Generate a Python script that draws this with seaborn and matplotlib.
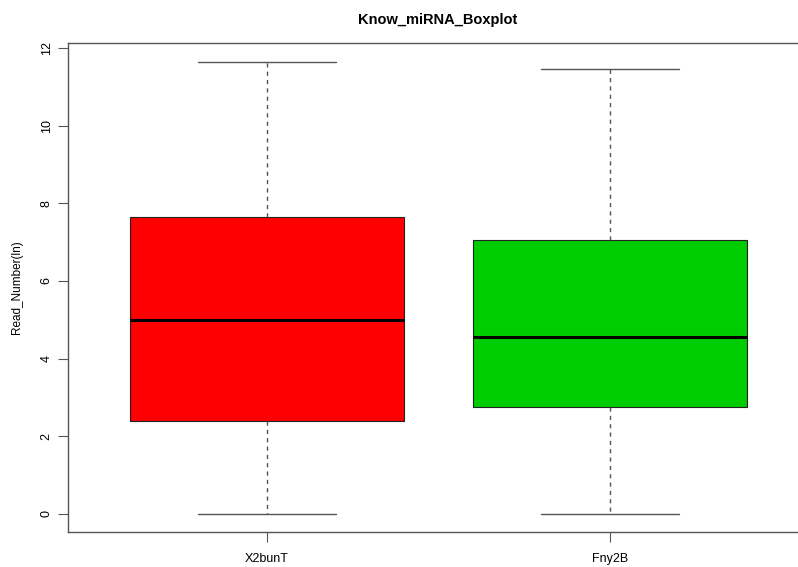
import matplotlib.pyplot as plt
import pandas as pd
import seaborn as sns

# five-number summaries (min, Q1, median, Q3, max)
samples = ["X2bunT", "Fny2B"]
x2bunt_vals = [0.0, 2.40, 5.00, 7.65, 11.65]
fny2b_vals = [0.0, 2.76, 4.56, 7.06, 11.47]
box_colors = ["#FF0000", "#00CD00"]

df = pd.DataFrame({
    "sample": [samples[0]] * len(x2bunt_vals) + [samples[1]] * len(fny2b_vals),
    "value": x2bunt_vals + fny2b_vals,
})

sns.set_style("white")
plt.rcParams['font.family'] = ['Liberation Sans', 'DejaVu Sans']
plt.rcParams['text.color'] = 'black'
plt.rcParams['axes.labelcolor'] = 'black'
plt.rcParams['xtick.labelcolor'] = 'black'
plt.rcParams['ytick.labelcolor'] = 'black'

fig = plt.figure(figsize=(7.98, 5.67), dpi=100)
# R-style plot region; right edge falls outside the canvas like the original
ax = fig.add_axes([0.0852, 0.0617, 0.9286, 0.8625])

sns.boxplot(data=df, x="sample", y="value", hue="sample", palette=box_colors,
            legend=False, width=0.8, whis=1.5, saturation=1, ax=ax,
            boxprops=dict(edgecolor="#222222", linewidth=0.8),
            whiskerprops=dict(color="#555555", linestyle=(0, (3, 3)), linewidth=1.0),
            capprops=dict(color="#555555", linewidth=1.0),
            medianprops=dict(color="black", linewidth=2.2),
            showfliers=False)

ax.set_xlim(-0.58, 1.58)
ax.set_ylim(-0.467, 12.13)
ax.set_yticks([0, 2, 4, 6, 8, 10, 12])
ax.set_yticklabels(["0", "2", "4", "6", "8", "10", "12"], rotation=90, va="center")

for side in ["left", "bottom", "top", "right"]:
    ax.spines[side].set_visible(True)
    ax.spines[side].set_color("#555555")
    ax.spines[side].set_linewidth(1.0)

ax.tick_params(axis="both", direction="out", length=7, width=0.8, color="#555555",
               labelsize=9, pad=4, left=True, bottom=True)
ax.tick_params(axis="x", pad=8)

ax.set_xlabel("")
ax.set_ylabel("Read_Number(ln)", fontsize=8.5, labelpad=13)
fig.text(0.549, 0.965, "Know_miRNA_Boxplot", ha="center", va="center",
         fontsize=10.5, fontweight="bold", color="black")

fig.savefig("out.png", dpi=100)
